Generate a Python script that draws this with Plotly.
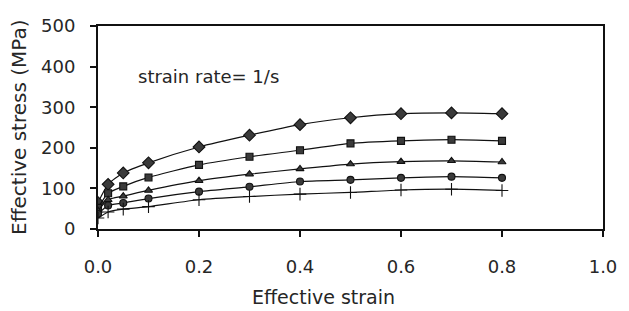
import plotly.graph_objects as go

strain = [0, 0.02, 0.05, 0.1, 0.2, 0.3, 0.4, 0.5, 0.6, 0.7, 0.8]
stress_diamond = [65, 110, 138, 163, 202, 231, 257, 274, 284, 286, 284]
stress_square = [52, 88, 105, 127, 158, 178, 194, 211, 217, 220, 217]
stress_triangle = [45, 72, 81, 95, 119, 135, 148, 160, 166, 168, 165]
stress_circle = [37, 58, 64, 75, 92, 104, 117, 121, 126, 129, 126]
stress_plus = [27, 42, 49, 55, 72, 80, 86, 90, 96, 98, 95]

x_ticks = [0, 0.2, 0.4, 0.6, 0.8, 1.0]
y_ticks = [0, 100, 200, 300, 400, 500]

FONT = "DejaVu Sans"
series = [
    (stress_diamond, "diamond", 9),
    (stress_square, "square", 7),
    (stress_triangle, "triangle-up", 7),
    (stress_circle, "circle", 7),
    (stress_plus, "cross-thin", 9),
]

fig = go.Figure()
for ys, sym, sz in series:
    fig.add_trace(go.Scatter(
        x=strain, y=ys, mode="lines+markers",
        line=dict(color="#111111", width=1.2, shape="spline", smoothing=0.6),
        marker=dict(symbol=sym, size=sz, color="#3a3a3a",
                    line=dict(color="#111111", width=1.1)),
        showlegend=False,
    ))

fig.update_layout(
    width=629, height=311,
    margin=dict(l=98, r=26, t=26, b=82),
    paper_bgcolor="white", plot_bgcolor="white",
    font=dict(family=FONT, size=18, color="#262626"),
    xaxis=dict(range=[0, 1.0], tickvals=x_ticks, tickformat=".1f", automargin=False,
               showgrid=False, zeroline=False, showline=True, linecolor="#111111",
               linewidth=2, mirror=True, ticks="outside", ticklen=6, tickwidth=2,
               tickcolor="#111111", ticklabelstandoff=14),
    yaxis=dict(range=[0, 500], tickvals=y_ticks, automargin=False,
               showgrid=False, zeroline=False, showline=True, linecolor="#111111",
               linewidth=2, mirror=True, ticks="outside", ticklen=6, tickwidth=2,
               tickcolor="#111111", ticklabelstandoff=11),
    annotations=[
        dict(text="strain rate= 1/s", x=0.218, y=376, xref="x", yref="y",
             showarrow=False, font=dict(size=18, family=FONT)),
        dict(text="Effective strain", x=0.4475, y=-0.333, xref="paper", yref="paper",
             showarrow=False, font=dict(size=19, family=FONT), yanchor="middle"),
        dict(text="Effective stress (MPa)", x=-0.158, y=0.499, xref="paper", yref="paper",
             showarrow=False, font=dict(size=20, family=FONT), textangle=-90,
             xanchor="center", yanchor="middle"),
    ],
)

fig.write_html("out.html", config={"displayModeBar": False},
               post_script="document.body.style.margin='0';document.body.style.overflow='hidden';")
